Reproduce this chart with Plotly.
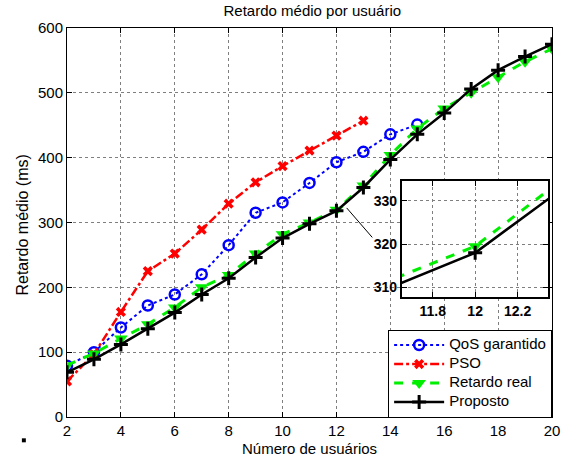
import plotly.graph_objects as go

# Number of users
usuarios = [2, 3, 4, 5, 6, 7, 8, 9, 10, 11, 12, 13, 14, 15, 16, 17, 18, 19, 20]

# Mean delay per user (ms)
qos_x = [2, 3, 4, 5, 6, 7, 8, 9, 10, 11, 12, 13, 14, 15]
qos_garantido = [79, 100, 138, 172, 189, 220, 265, 315, 331, 361, 393, 409, 436, 451]

pso_x = [2, 3, 4, 5, 6, 7, 8, 9, 10, 11, 12, 13]
pso = [55, 97, 162, 225, 252, 289, 329, 362, 387, 411, 434, 457]

retardo_real = [80, 98, 121, 143, 169, 200, 219, 252, 282, 300, 319.5, 357,
                404, 445, 476, 500, 524, 548, 568]

proposto = [69, 89, 112, 136, 161, 189, 214, 246, 276, 298, 318, 354,
            397, 436, 469, 506, 535, 556, 575]

titulo = "Retardo médio por usuário"
rotulo_x = "Número de usuários"
rotulo_y = "Retardo médio (ms)"

FONT = "Liberation Sans, Arial, sans-serif"

estilos = {
    "QoS garantido": dict(line=dict(color="#0000ff", width=2, dash="dot"),
                          marker=dict(symbol="circle-open", size=10, color="#0000ff",
                                      line=dict(width=2.5, color="#0000ff"))),
    "PSO": dict(line=dict(color="#ff0000", width=2.5, dash="dashdot"),
                marker=dict(symbol="x", size=9, color="#ff0000",
                            line=dict(width=0))),
    "Retardo real": dict(line=dict(color="#00ee00", width=3, dash="dash"),
                         marker=dict(symbol="triangle-down", size=12, color="#00ee00")),
    "Proposto": dict(line=dict(color="#000000", width=2.5),
                     marker=dict(symbol="cross-thin", size=10, color="#000000",
                                 line=dict(width=3, color="#000000"))),
}

series = [
    ("QoS garantido", qos_x, qos_garantido),
    ("PSO", pso_x, pso),
    ("Retardo real", usuarios, retardo_real),
    ("Proposto", usuarios, proposto),
]

fig = go.Figure()

# Main axes (legend text set larger than the compact row spacing)
for nome, xs, ys in series:
    fig.add_trace(go.Scatter(x=xs, y=ys, mode="lines+markers",
                             name=f'<span style="font-size:15px">{nome}</span>',
                             xaxis="x", yaxis="y", **estilos[nome]))

# Zoomed view around 12 users
for nome, xs, ys in series:
    fig.add_trace(go.Scatter(x=xs, y=ys, mode="lines+markers", name=nome,
                             showlegend=False, xaxis="x2", yaxis="y2",
                             **estilos[nome]))

eixo_comum = dict(
    showline=True, linecolor="black", linewidth=1, mirror="ticks",
    ticks="inside", ticklen=5, tickcolor="black",
    showgrid=True, gridcolor="#7f7f7f", griddash="dot", gridwidth=1,
    zeroline=False,
)

L, R, T, B = 66.7, 14, 28, 42.3
W, H = 572, 459
pw, ph = W - L - R, H - T - B

fig.update_layout(
    width=W, height=H,
    margin=dict(l=L, r=R, t=T, b=B),
    paper_bgcolor="white", plot_bgcolor="white",
    font=dict(family=FONT, size=15, color="black"),
    title=dict(text=titulo, x=(L + pw / 2) / W, xanchor="center",
               y=1 - 11 / H, yanchor="middle", font=dict(size=15)),
    xaxis=dict(range=[2, 20], dtick=2, tick0=2, ticklabelstandoff=0, **eixo_comum),
    yaxis=dict(range=[0, 600], dtick=100, ticklabelstandoff=0, **eixo_comum),
    xaxis2=dict(domain=[0.6906, 0.9925], anchor="y2", range=[11.655, 12.345],
                tickvals=[11.8, 12, 12.2], ticktext=["<b>11.8</b>", "<b>12</b>", "<b>12.2</b>"],
                tickfont=dict(size=14), **{**eixo_comum, "linewidth": 2}),
    yaxis2=dict(domain=[0.3072, 0.6072], anchor="x2", range=[307.7, 334.6],
                tickvals=[310, 320, 330], ticktext=["<b>310</b>", "<b>320</b>", "<b>330</b>"],
                tickfont=dict(size=14), **{**eixo_comum, "linewidth": 2}),
    legend=dict(x=(392 - L) / pw, y=(H - B - 329.3) / ph, xanchor="left", yanchor="top",
                bgcolor="white", bordercolor="black", borderwidth=1,
                font=dict(size=11), itemwidth=50, tracegroupgap=0),
    showlegend=True,
)

# Axis titles
fig.add_annotation(text=rotulo_x, xref="paper", yref="paper",
                   x=0.5, y=(H - B - 448) / ph, xanchor="center", yanchor="middle",
                   showarrow=False, font=dict(size=15))
fig.add_annotation(text=rotulo_y, xref="paper", yref="paper",
                   x=(21.5 - L) / pw, y=(H - B - 225) / ph, xanchor="center", yanchor="middle",
                   textangle=-90, showarrow=False, font=dict(size=16))

# Inset background so the main grid does not show through
fig.add_shape(type="rect", xref="x2 domain", yref="y2 domain", x0=0, x1=1, y0=0, y1=1,
              fillcolor="white", line=dict(width=0), layer="below")

# Pointer from the curve to the zoomed view
fig.add_shape(type="line", xref="x", yref="y", x0=12.38, y0=322.5, x1=13.33, y1=277,
              line=dict(color="black", width=1))

# Small square near the lower-left corner
fig.add_shape(type="rect", xref="paper", yref="paper",
              x0=(21 - L) / pw, x1=(25 - L) / pw,
              y0=(H - B - 442) / ph, y1=(H - B - 438) / ph,
              fillcolor="black", line=dict(width=0))

fig.write_html("out.html")
